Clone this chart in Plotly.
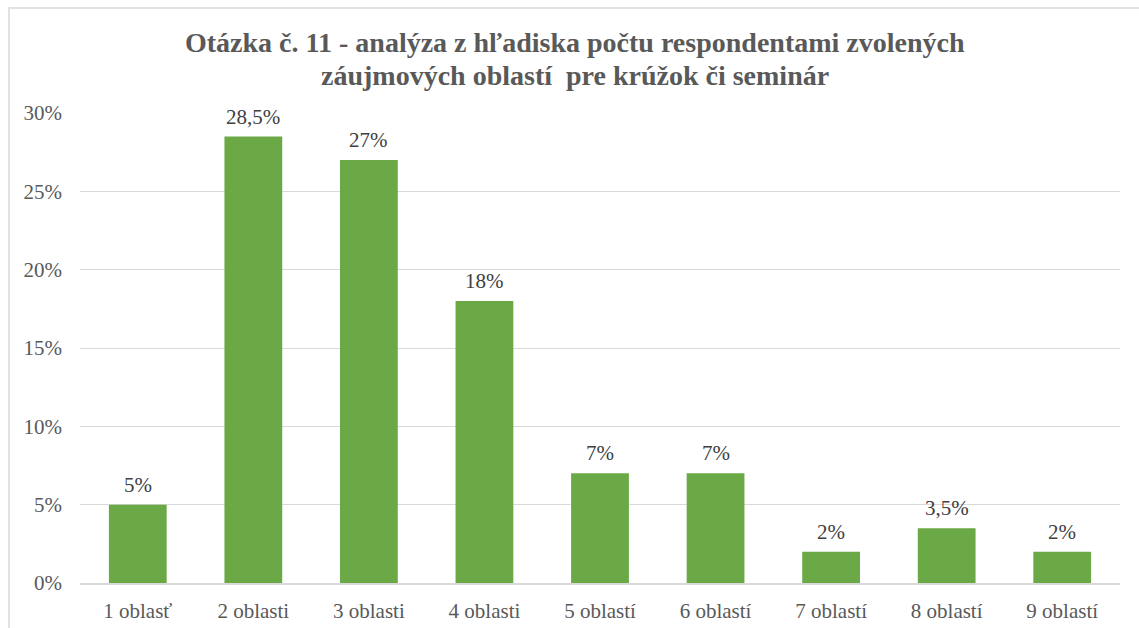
import plotly.graph_objects as go

# Share of respondents by number of chosen interest areas
categories = ["1 oblasť", "2 oblasti", "3 oblasti", "4 oblasti", "5 oblastí",
              "6 oblastí", "7 oblastí", "8 oblastí", "9 oblastí"]
shares = [5, 28.5, 27, 18, 7, 7, 2, 3.5, 2]
y_ticks = [0, 5, 10, 15, 20, 25, 30]
y_tick_labels = ["0%", "5%", "10%", "15%", "20%", "25%", "30%"]

title_lines = ["Otázka č. 11 - analýza z hľadiska počtu respondentami zvolených",
               "záujmových oblastí  pre krúžok či seminár"]

SERIF = "Liberation Serif"
W, H = 1139, 628
L, R, T, B = 80, 19, 113, 45
plot_w, plot_h = W - L - R, H - T - B


def py_to_paper(py):
    """Pixel row (from top of the figure) to paper y coordinate."""
    return (H - B - py) / plot_h


def px_to_paper(px):
    return (px - L) / plot_w


def pct_label(v):
    return f"{v:g}".replace(".", ",") + "%"


fig = go.Figure()
fig.add_trace(go.Bar(
    x=categories,
    y=shares,
    marker=dict(color="#6aa945", line=dict(width=0)),
    hoverinfo="skip",
))

# value labels above each bar
for c, v in zip(categories, shares):
    fig.add_annotation(
        x=c, y=v, text=pct_label(v), showarrow=False,
        yanchor="bottom", yshift=6,
        font=dict(family=SERIF, size=21, color="#404040"),
    )

# two-line chart title with tight line spacing
for line, py in zip(title_lines, [43, 75]):
    fig.add_annotation(
        xref="paper", yref="paper", x=px_to_paper(575), y=py_to_paper(py),
        xanchor="center", yanchor="middle", showarrow=False,
        text=f"<b>{line}</b>",
        font=dict(family=SERIF, size=28, color="#595959"),
    )

# outer chart frame
fig.add_shape(
    type="rect", xref="paper", yref="paper",
    x0=px_to_paper(9), x1=px_to_paper(W + 5),
    y0=py_to_paper(H + 5), y1=py_to_paper(8),
    line=dict(color="#d9d9d9", width=1.5), fillcolor="rgba(0,0,0,0)",
    layer="below",
)

fig.update_layout(
    width=W, height=H,
    margin=dict(l=L, r=R, t=T, b=B),
    paper_bgcolor="white", plot_bgcolor="white",
    bargap=0.5,
    showlegend=False,
    font=dict(family=SERIF),
    xaxis=dict(
        automargin=False,
        showgrid=False, showline=True, linecolor="#d9d9d9", linewidth=1.5,
        ticks="", ticklabelstandoff=8,
        tickfont=dict(family=SERIF, size=21, color="#595959"),
    ),
    yaxis=dict(
        automargin=False,
        range=[0, 30], tickvals=y_ticks, ticktext=y_tick_labels,
        showgrid=True, gridcolor="#d9d9d9", gridwidth=1.2,
        zeroline=False, showline=False, ticks="", ticklabelstandoff=17,
        tickfont=dict(family=SERIF, size=21, color="#595959"),
    ),
)

fig.write_html("out.html")
